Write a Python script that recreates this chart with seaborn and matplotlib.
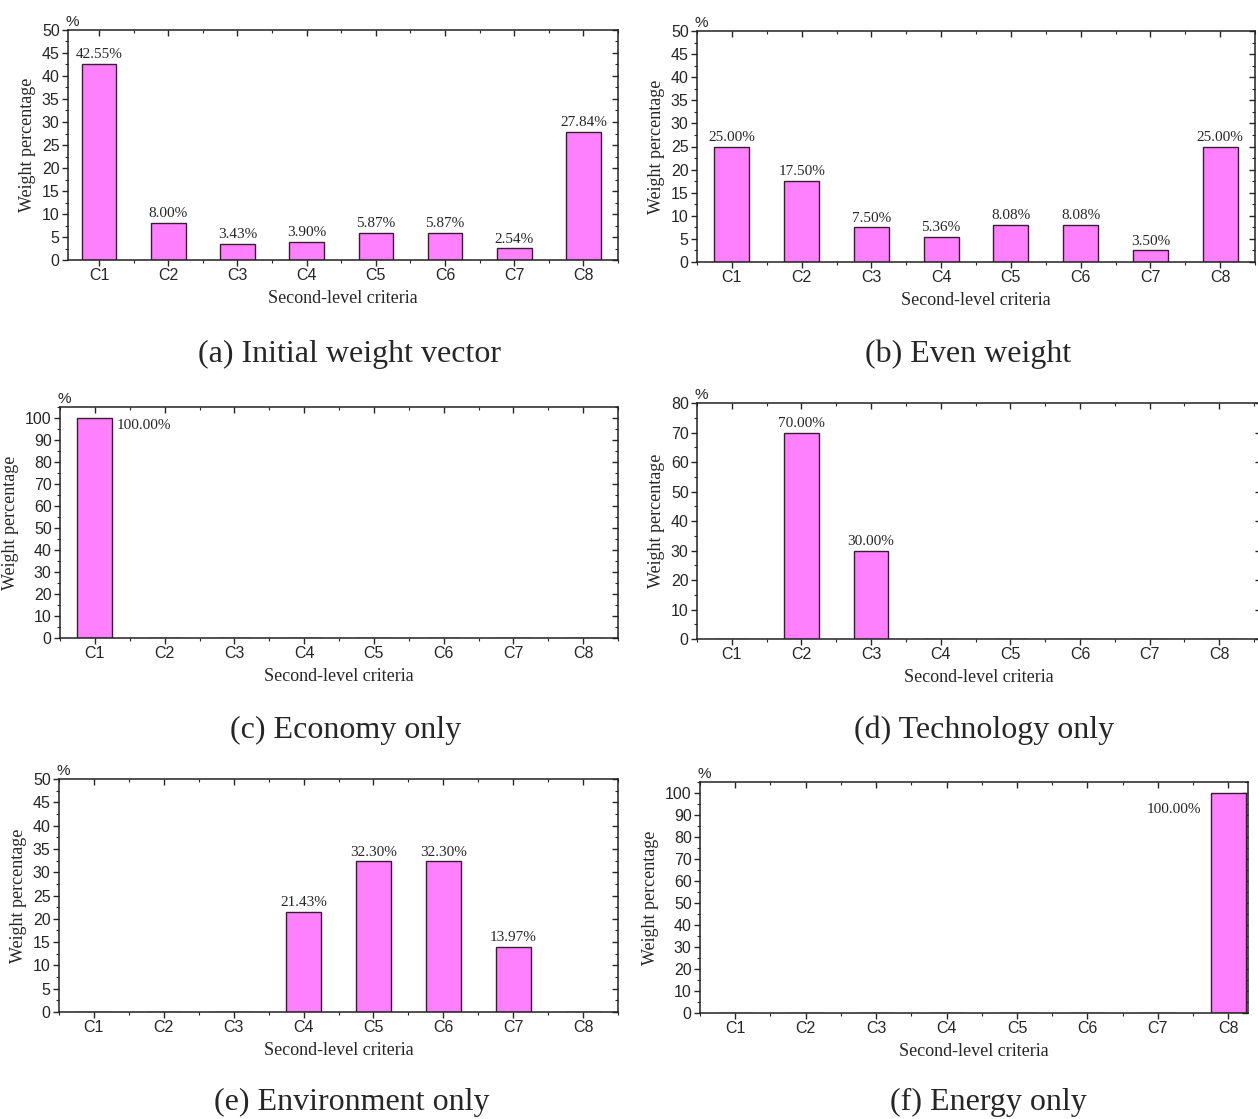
import matplotlib
matplotlib.use("Agg")
import matplotlib.pyplot as plt
import seaborn as sns
from matplotlib.ticker import MultipleLocator, FixedLocator

# ================================
# Data
# ================================
criteria = ["C1", "C2", "C3", "C4", "C5", "C6", "C7", "C8"]

w_initial = [42.55, 8.00, 3.43, 3.90, 5.87, 5.87, 2.54, 27.84]
lab_initial = ["42.55%", "8.00%", "3.43%", "3.90%", "5.87%", "5.87%", "2.54%", "27.84%"]

w_even = [25.00, 17.50, 7.50, 5.36, 8.08, 8.08, 2.50, 25.00]
lab_even = ["25.00%", "17.50%", "7.50%", "5.36%", "8.08%", "8.08%", "3.50%", "25.00%"]

w_economy = [100.0, 0, 0, 0, 0, 0, 0, 0]
lab_economy = ["100.00%", "", "", "", "", "", "", ""]

w_technology = [0, 70.0, 30.0, 0, 0, 0, 0, 0]
lab_technology = ["", "70.00%", "30.00%", "", "", "", "", ""]

w_environment = [0, 0, 0, 21.43, 32.30, 32.30, 13.97, 0]
lab_environment = ["", "", "", "21.43%", "32.30%", "32.30%", "13.97%", ""]

w_energy = [0, 0, 0, 0, 0, 0, 0, 100.0]
lab_energy = ["", "", "", "", "", "", "", "100.00%"]

captions = ["(a) Initial weight vector", "(b) Even weight", "(c) Economy only",
            "(d) Technology only", "(e) Environment only", "(f) Energy only"]

# ================================
# Layout (pixel boxes of each panel)
# ================================
W, H = 1258, 1119
panels = [
    # values, labels, box (x0, y0, x1, y1), ylim, ystep, xlim, label mode, caption pos
    (w_initial, lab_initial, (68, 30, 618, 260), 50, 5, (-0.45, 7.5), "top", (350, 354)),
    (w_even, lab_even, (697, 31, 1255, 262), 50, 5, (-0.5, 7.5), "top", (968, 354)),
    (w_economy, lab_economy, (60, 407, 618, 638), 105, 10, (-0.5, 7.5), "right", (346, 730)),
    (w_technology, lab_technology, (697, 403, 1261, 639), 80, 10, (-0.5, 7.6), "top", (984, 730)),
    (w_environment, lab_environment, (59, 779, 618, 1012), 50, 5, (-0.5, 7.5), "top", (352, 1102)),
    (w_energy, lab_energy, (700, 782, 1248, 1013), 105, 10, (-0.5, 7.28), "left", (988, 1102)),
]

sns.set_style("ticks")
serif = ["Liberation Serif", "DejaVu Serif"]
sans = ["Liberation Sans", "DejaVu Sans"]
plt.rcParams["font.family"] = sans

fig = plt.figure(figsize=(W / 100, H / 100), dpi=100)

bar_face = "#ff80ff"
bar_edge = "#3b1a36"

for k, (vals, labs, box, ytop, ystep, xlim, mode, cap) in enumerate(panels):
    x0, y0, x1, y1 = box
    ax = fig.add_axes([x0 / W, 1 - y1 / H, (x1 - x0) / W, (y1 - y0) / H])
    sns.barplot(x=criteria, y=vals, ax=ax, color=bar_face, edgecolor=bar_edge,
                linewidth=1.0, width=0.5, saturation=1)
    ax.set_xlim(*xlim)
    ax.set_ylim(0, ytop)
    ax.yaxis.set_major_locator(MultipleLocator(ystep))
    ax.yaxis.set_minor_locator(MultipleLocator(ystep / 2))
    ax.xaxis.set_minor_locator(FixedLocator([i + 0.5 for i in range(-1, 8)]))
    ax.tick_params(axis="both", which="major", direction="out", length=4, width=1,
                   labelsize=11.5, pad=2)
    ax.tick_params(axis="both", which="minor", direction="out", length=2, width=0.8)
    for sp in ax.spines.values():
        sp.set_visible(True)
        sp.set_linewidth(1.1)
        sp.set_color("#222222")

    # mirrored ticks on top and right
    top = ax.secondary_xaxis("top")
    top.set_xticks(range(8))
    top.xaxis.set_minor_locator(FixedLocator([i + 0.5 for i in range(-1, 8)]))
    top.tick_params(which="major", direction="in", length=4, width=1, labeltop=False)
    top.tick_params(which="minor", direction="in", length=2, width=0.8)
    top.spines["top"].set_visible(False)
    right = ax.secondary_yaxis("right")
    right.yaxis.set_major_locator(MultipleLocator(ystep))
    right.yaxis.set_minor_locator(MultipleLocator(ystep / 2))
    right.tick_params(which="major", direction="in", length=4, width=1, labelright=False)
    right.tick_params(which="minor", direction="in", length=2, width=0.8)
    right.spines["right"].set_visible(False)

    ax.set_xlabel("Second-level criteria", fontsize=13, family=serif, labelpad=5)
    ax.set_ylabel("Weight percentage", fontsize=13, family=serif, labelpad=4)
    ax.text(-0.004, 1.005, "%", transform=ax.transAxes, ha="left", va="bottom",
            fontsize=11, family=sans)

    for i, (v, t) in enumerate(zip(vals, labs)):
        if not t:
            continue
        if mode == "top":
            ax.annotate(t, (i, v), xytext=(0, 2), textcoords="offset points",
                        ha="center", va="bottom", fontsize=11, family=serif)
        elif mode == "right":
            ax.annotate(t, (i + 0.25, v), xytext=(3, -1), textcoords="offset points",
                        ha="left", va="top", fontsize=11, family=serif)
        else:
            ax.annotate(t, (i - 0.25, v), xytext=(-7, -7), textcoords="offset points",
                        ha="right", va="top", fontsize=11, family=serif)

    fig.text(cap[0] / W, 1 - cap[1] / H, captions[k],
             ha="center", va="center", fontsize=23, family=serif)

fig.savefig("out.png", dpi=100)
